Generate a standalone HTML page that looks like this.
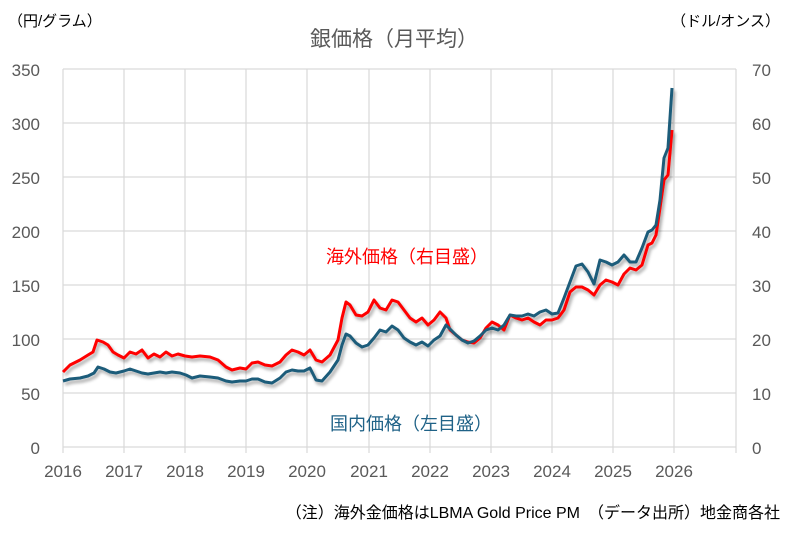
<!DOCTYPE html>
<html><head><meta charset="utf-8"><style>
body{margin:0;background:#fff;}
svg text{font-family:"Liberation Sans","Noto Sans CJK JP",sans-serif;}
</style></head><body>
<svg width="788" height="529" viewBox="0 0 788 529" xmlns="http://www.w3.org/2000/svg">
<defs><filter id="sh" x="-5%" y="-5%" width="110%" height="110%"><feGaussianBlur in="SourceAlpha" stdDeviation="1.5"/><feOffset dx="2" dy="3"/><feComponentTransfer><feFuncA type="linear" slope="0.35"/></feComponentTransfer><feMerge><feMergeNode/><feMergeNode in="SourceGraphic"/></feMerge></filter></defs>
<g stroke="#d9d9d9" stroke-width="1.2">
<line x1="63" y1="69" x2="736" y2="69"/><line x1="63" y1="123" x2="736" y2="123"/><line x1="63" y1="177" x2="736" y2="177"/><line x1="63" y1="231" x2="736" y2="231"/><line x1="63" y1="285" x2="736" y2="285"/><line x1="63" y1="339" x2="736" y2="339"/><line x1="63" y1="393" x2="736" y2="393"/><line x1="63" y1="447" x2="736" y2="447"/>
<line x1="63" y1="69" x2="63" y2="453"/><line x1="124" y1="69" x2="124" y2="453"/><line x1="185" y1="69" x2="185" y2="453"/><line x1="246" y1="69" x2="246" y2="453"/><line x1="307" y1="69" x2="307" y2="453"/><line x1="369" y1="69" x2="369" y2="453"/><line x1="430" y1="69" x2="430" y2="453"/><line x1="491" y1="69" x2="491" y2="453"/><line x1="552" y1="69" x2="552" y2="453"/><line x1="613" y1="69" x2="613" y2="453"/><line x1="674" y1="69" x2="674" y2="453"/><line x1="736" y1="69" x2="736" y2="453"/>
</g>
<g font-size="17" fill="#595959">
<g text-anchor="end"><text x="40" y="76">350</text><text x="40" y="130">300</text><text x="40" y="184">250</text><text x="40" y="238">200</text><text x="40" y="292">150</text><text x="40" y="346">100</text><text x="40" y="400">50</text><text x="40" y="454">0</text></g>
<text x="752" y="76">70</text><text x="752" y="130">60</text><text x="752" y="184">50</text><text x="752" y="238">40</text><text x="752" y="292">30</text><text x="752" y="346">20</text><text x="752" y="400">10</text><text x="752" y="454">0</text>
<g text-anchor="middle"><text x="63" y="477">2016</text><text x="124" y="477">2017</text><text x="185" y="477">2018</text><text x="246" y="477">2019</text><text x="307" y="477">2020</text><text x="369" y="477">2021</text><text x="430" y="477">2022</text><text x="491" y="477">2023</text><text x="552" y="477">2024</text><text x="613" y="477">2025</text><text x="674" y="477">2026</text></g>
</g>
<text x="394" y="46" font-size="21" fill="#595959" text-anchor="middle">銀価格（月平均）</text>
<text x="8" y="26" font-size="15" fill="#000">（円/グラム）</text>
<text x="780" y="26" font-size="15" fill="#000" text-anchor="end">（ドル/オンス）</text>
<text x="780" y="518" font-size="16" fill="#000" text-anchor="end">（注）海外金価格はLBMA Gold Price PM　（データ出所）地金商各社</text>
<text x="326" y="263" font-size="18" fill="#ff0000">海外価格（右目盛）</text>
<text x="330" y="430" font-size="18" fill="#1f6287">国内価格（左目盛）</text>
<g fill="none" stroke-width="3" stroke-linejoin="round" filter="url(#sh)">
<polyline stroke="#ff0000" points="63,372 70,365 80,360 88,355 93,352 97,340 103,342 108,345 113,352 118,355 124,358 130,352 136,354 142,350 148,358 154,354 160,357 166,352 172,356 178,354 185,356 192,357 200,356 210,357 218,360 226,367 232,370 240,368 246,369 252,363 258,362 265,365 272,366 280,362 286,355 292,350 298,352 304,355 310,350 316,360 322,362 330,355 338,340 342,318 346,302 350,305 356,315 362,316 368,312 374,300 380,308 386,310 392,300 398,302 404,310 410,318 416,322 422,318 428,325 434,320 440,312 446,318 450,330 456,335 462,340 468,342 474,343 480,338 486,328 492,322 498,325 504,330 510,315 516,318 522,320 528,318 534,322 540,325 546,320 552,320 558,318 564,310 570,292 576,287 582,287 588,290 594,295 600,285 606,280 612,282 618,285 624,274 630,268 636,270 642,265 648,245 652,243 656,235 660,208 664,180 668,175 672,130"/>
<polyline stroke="#1b5c7a" points="63,381 70,379 80,378 88,376 94,373 98,367 104,369 110,372 116,373 124,371 130,369 136,371 142,373 148,374 154,373 160,372 166,373 172,372 180,373 186,375 192,378 200,376 210,377 218,378 226,381 232,382 240,381 246,381 252,379 258,379 265,382 272,383 280,378 286,372 292,370 298,371 304,371 310,368 316,380 322,381 330,372 338,360 342,345 346,334 350,336 356,343 362,347 368,345 374,338 380,330 386,332 392,326 398,330 404,338 410,342 416,345 422,342 428,346 434,340 440,336 446,325 450,329 456,335 462,340 468,343 474,341 480,336 486,330 492,328 498,330 504,325 510,315 516,316 522,316 528,314 534,316 540,312 546,310 552,314 558,313 564,298 570,282 576,266 582,264 588,272 594,284 600,260 606,262 612,265 618,262 624,255 630,262 636,262 642,248 648,232 652,230 656,225 660,200 664,158 668,148 672,88"/>
</g>
</svg>
</body></html>
